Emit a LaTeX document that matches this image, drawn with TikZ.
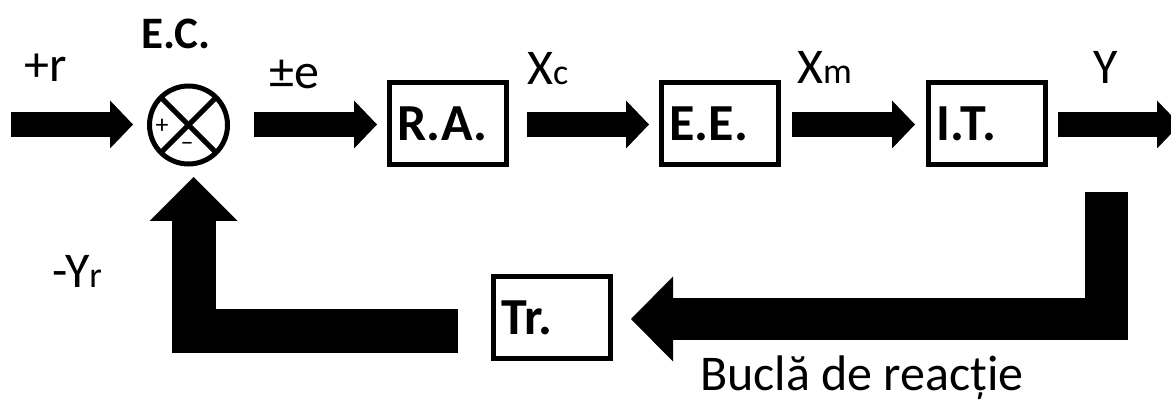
\documentclass[tikz,border=0pt]{standalone}
\usepackage{fontspec}
\setmainfont{Carlito}
\usetikzlibrary{arrows.meta,calc}
\newcommand\smfont{\fontsize{36}{40}\selectfont}
\begin{document}
\begin{tikzpicture}[x=1pt,y=-1pt,
  blk/.style={draw, line width=5pt, minimum width=117pt, minimum height=82pt,
    text width=101pt, inner sep=8pt, align=left, outer sep=0pt,
    font=\fontsize{52}{60}\selectfont\bfseries},
  lbl/.style={inner sep=0pt, anchor=base west, font=\fontsize{50}{60}\selectfont},
  fat/.style={line width=25pt, -{Triangle[length=23pt,width=48pt,line width=0pt]}},
  fatL/.style={line width=44pt, -{Triangle[length=44pt,width=88pt,line width=0pt]}},
  fatR/.style={line width=42.5pt, -{Triangle[length=42pt,width=85pt,line width=0pt]}}
]
\clip (0,0) rectangle (1171,401);
% summing junction
\node[draw, circle, line width=5pt, minimum size=78pt, inner sep=0pt, outer sep=0pt] (ec) at (188.5,125) {};
\draw[line width=5pt] (ec.45) -- (ec.225) (ec.135) -- (ec.-45);
\node[inner sep=0pt, font=\fontsize{26}{30}\selectfont] (plus) at (162,126) {+};
\node[inner sep=0pt, font=\fontsize{26}{30}\selectfont] (minus) at (187,146) {–};
% blocks
\node[blk] (ra) at (448,124) {R.A.};
\node[blk] (ee) at (720,124) {E.E.};
\node[blk] (it) at (987,124) {I.T.};
\node[blk] (tr) at (552,317.5) {Tr.};
% free ends
\coordinate (in) at (11,124.5);
\coordinate (out) at (1180,124.5);
\coordinate (fb) at (1106.5,192);
% forward arrows
\draw[fat, shorten >=16.5pt] (in) -- (ec.west |- in);
\draw[fat, shorten <=26.5pt, shorten >=12.5pt] (ec.east |- in) -- (ra.west |- in);
\draw[fat, shorten <=20.5pt, shorten >=12.5pt] (ra.east |- in) -- (ee.west |- in);
\draw[fat, shorten <=13.5pt, shorten >=13.5pt] (ee.east |- in) -- (it.west |- in);
\draw[fat, shorten <=12.5pt] (it.east |- in) -- (out);
% feedback arrows
\draw[fatR, shorten >=20.5pt] (fb) |- ($(tr.east)+(0,1.5)$);
\draw[fatL, shorten <=35.5pt, shorten >=13pt] ($(tr.west)+(0,13.5)$) -| ($(ec.south)+(5,0)$);
% labels
\node[lbl] (r) at (24,82) {+r};
\node[lbl, font=\fontsize{45}{52}\selectfont\bfseries] (ecl) at (141,49) {E.C.};
\node[lbl] (e) at (269,89) {±e};
\node[lbl] (xc) at (527,85) {X{\smfont c}};
\node[lbl] (xm) at (797,84) {X{\smfont m}};
\node[lbl, anchor=base] (y) at (1106,84) {Y};
\node[lbl] (yr) at (52,287) {-Y{\smfont r}};
\node[lbl] (bucla) at (700,390) {Buclă de reacție};
\end{tikzpicture}
\end{document}
